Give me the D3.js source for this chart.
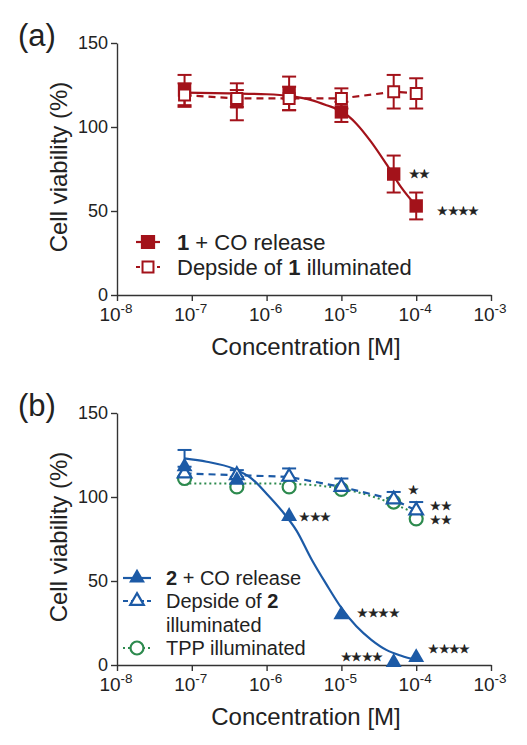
<!DOCTYPE html>
<html><head><meta charset="utf-8">
<script src="https://cdn.jsdelivr.net/npm/d3@7"></script>
<style>
body{margin:0;background:#fff}
svg{display:block}
text{font-family:"Liberation Sans",Arial,Helvetica,sans-serif;fill:#222}
</style>
</head><body><svg id="c" width="527" height="745"></svg>
<script>
// ---------- data ----------
const conc = [8e-8, 4e-7, 2e-6, 1e-5, 5e-5, 1e-4];
const xTickExp = [-8, -7, -6, -5, -4, -3];
const yTicks = [0, 50, 100, 150];
// panel (a)
const co1 = [122, 115, 120, 109, 72, 53];
const co1Err = [9, 11, 10, 6, 11, 8];
const dep1 = [119, 117, 117, 117, 121, 120];
const dep1Err = [7, 5, 7, 6, 10, 9];
const fit1LogConc = [-7.1, -6.5, -6.0, -5.7, -5.4, -5.2, -5.0, -4.8, -4.6, -4.4, -4.2, -4.0];
const fit1Vals = [120.5, 120, 119.5, 118.5, 116, 113, 109.5, 102, 91, 78, 64, 53];
const co1Stars = ["", "", "", "", "**", "****"];
// panel (b)
const co2 = [118, 110, 88.5, 30, 1.6, 4.5];
const co2ErrUp = [10, 2, 0, 0, 0, 0];
const dep2 = [114, 113, 112, 106, 98.5, 92];
const dep2ErrUp = [4, 3, 5, 5, 4.5, 5];
const tpp = [111, 106, 106, 104.5, 97, 87];
const fit2LogConc = [-7.1, -6.8, -6.45, -6.2, -6.0, -5.8, -5.6, -5.4, -5.2, -5.0, -4.8, -4.6, -4.4, -4.2, -4.0];
const fit2Vals = [123, 121, 117, 111, 102, 92, 80, 63, 48, 34, 23, 15, 9, 5.5, 3];
const fitTppLogConc = [-7.1, -6.5, -6.0, -5.7, -5.4, -5.2, -5.0, -4.8, -4.6, -4.4, -4.2, -4.0];
const fitTppVals = [108, 108, 108, 107.8, 107.2, 106.3, 105, 103, 100.5, 97.5, 94, 90];
const co2Stars = ["", "", "***", "****", "****", "****"];
const dep2Stars = ["", "", "", "", "*", "**"];
const tppStars = ["", "", "", "", "", "**"];

// ---------- styles ----------
const RED = "#a3121a", BLUE = "#1c5aa6", GREEN = "#2d8a4e", AX = "#333";
const svg = d3.select("#c");

function panel(top, label) {
  const g = svg.append("g");
  const x = d3.scaleLog().domain([1e-8, 1e-3]).range([117, 491]);
  const y = d3.scaleLinear().domain([0, 150]).range([top + 252, top]);
  const minors = [];
  for (let e = -8; e < -3; e++) for (let m = 2; m <= 9; m++) minors.push(m * Math.pow(10, e));
  const xa = g.append("g").attr("transform", `translate(0,${y(0)})`);
  xa.call(d3.axisBottom(x).tickValues(minors).tickSize(3).tickSizeOuter(0).tickFormat(""));
  xa.call(d3.axisBottom(x).tickValues(xTickExp.map(e => Math.pow(10, e))).tickSize(6).tickSizeOuter(0).tickFormat(""));
  xa.selectAll("path,line").attr("stroke", AX).attr("stroke-width", 1.4);
  const lbl = g.append("g");
  xTickExp.forEach(e => {
    const t = lbl.append("text").attr("x", x(Math.pow(10, e)) - 1).attr("y", y(0) + 26)
      .attr("text-anchor", "middle").attr("font-size", 19);
    t.append("tspan").text("10");
    t.append("tspan").attr("dy", -8).attr("font-size", 13.5).text("-" + Math.abs(e));
  });
  const ya = g.append("g").attr("transform", "translate(117,0)");
  ya.call(d3.axisLeft(y).tickValues(yTicks).tickSize(6).tickSizeOuter(0).tickPadding(3));
  ya.selectAll("path,line").attr("stroke", AX).attr("stroke-width", 1.4);
  ya.selectAll("text").attr("font-size", 18).attr("font-family", "Liberation Sans, Arial, sans-serif").attr("fill", "#222");
  g.append("text").attr("transform", `translate(67,${top + 124}) rotate(-90)`).attr("text-anchor", "middle")
    .attr("font-size", 24).text("Cell viability (%)");
  g.append("text").attr("x", 306).attr("y", top + 312).attr("text-anchor", "middle")
    .attr("font-size", 24).text("Concentration [M]");
  g.append("text").attr("x", 18).attr("y", top + 3).attr("font-size", 31).text(label);
  return {g, x, y};
}

function errBars(g, x, y, vals, errs, color, up, down) {
  vals.forEach((v, i) => {
    const e = errs[i]; if (!e) return;
    const cx = x(conc[i]);
    const y1 = down ? y(v - e) : y(v), y2 = up ? y(v + e) : y(v);
    g.append("line").attr("x1", cx).attr("x2", cx).attr("y1", y1).attr("y2", y2).attr("stroke", color).attr("stroke-width", 2);
    if (up) g.append("line").attr("x1", cx - 7).attr("x2", cx + 7).attr("y1", y2).attr("y2", y2).attr("stroke", color).attr("stroke-width", 2);
    if (down) g.append("line").attr("x1", cx - 7).attr("x2", cx + 7).attr("y1", y1).attr("y2", y1).attr("stroke", color).attr("stroke-width", 2);
  });
}

// significance marks drawn as small solid stars (text)
function stars(g, x, y, vals, texts, offs) {
  texts.forEach((t, i) => {
    if (!t) return;
    const o = offs[i];
    g.append("text").attr("x", x(conc[i]) + o[0]).attr("y", y(vals[i]) + o[1] + 4)
      .attr("text-anchor", o[2] || "start").attr("font-size", 11.5)
      .attr("font-family", "DejaVu Sans, sans-serif")
      .attr("letter-spacing", -0.6).attr("fill", "#111")
      .attr("stroke", "#111").attr("stroke-width", 0.4)
      .text(t.replace(/\*/g, "★"));
  });
}

function sym(type, size) { return d3.symbol().type(type).size(size)(); }

// ---------- panel (a) ----------
{
  const {g, x, y} = panel(43, "(a)");
  const fitLine = d3.line().x(d => x(Math.pow(10, d[0]))).y(d => y(d[1])).curve(d3.curveMonotoneX);
  errBars(g, x, y, co1, co1Err, RED, true, true);
  errBars(g, x, y, dep1, dep1Err, RED, true, true);
  g.append("path").attr("d", fitLine(fit1LogConc.map((c, i) => [c, fit1Vals[i]])))
    .attr("fill", "none").attr("stroke", RED).attr("stroke-width", 2.2);
  g.append("path").attr("d", d3.line().x((d, i) => x(conc[i])).y(d => y(d))(dep1))
    .attr("fill", "none").attr("stroke", RED).attr("stroke-width", 2.2).attr("stroke-dasharray", "7,5");
  co1.forEach((v, i) => g.append("path").attr("d", sym(d3.symbolSquare, 180))
    .attr("transform", `translate(${x(conc[i])},${y(v)})`).attr("fill", RED));
  dep1.forEach((v, i) => g.append("path").attr("d", sym(d3.symbolSquare, 120))
    .attr("transform", `translate(${x(conc[i])},${y(v)})`).attr("fill", "#fff").attr("stroke", RED).attr("stroke-width", 2));
  stars(g, x, y, co1, co1Stars, [0, 0, 0, 0, [15, 0], [21, 5]]);
  const L = g.append("g");
  [[242, "filled", " + CO release", "1", ""], [267, "open", "Depside of ", "1", " illuminated"]].forEach(r => {
    L.append("line").attr("x1", 136).attr("x2", 160).attr("y1", r[0]).attr("y2", r[0]).attr("stroke", RED).attr("stroke-width", 2.2)
      .attr("stroke-dasharray", r[1] === "open" ? "4,3" : null);
    L.append("path").attr("d", sym(d3.symbolSquare, r[1] === "open" ? 120 : 150)).attr("transform", `translate(148,${r[0]})`)
      .attr("fill", r[1] === "open" ? "#fff" : RED).attr("stroke", RED).attr("stroke-width", 2);
    const t = L.append("text").attr("x", 177).attr("y", r[0] + 8).attr("font-size", 22);
    if (r[1] === "filled") { t.append("tspan").attr("font-weight", "bold").text(r[3]); t.append("tspan").text(r[2]); }
    else { t.append("tspan").text(r[2]); t.append("tspan").attr("font-weight", "bold").text(r[3]); t.append("tspan").text(r[4]); }
  });
}

// ---------- panel (b) ----------
{
  const {g, x, y} = panel(413, "(b)");
  const fitLine = d3.line().x(d => x(Math.pow(10, d[0]))).y(d => y(d[1])).curve(d3.curveMonotoneX);
  g.append("path").attr("d", fitLine(fitTppLogConc.map((c, i) => [c, fitTppVals[i]])))
    .attr("fill", "none").attr("stroke", GREEN).attr("stroke-width", 2).attr("stroke-dasharray", "2,3");
  g.append("path").attr("d", d3.line().x((d, i) => x(conc[i])).y(d => y(d))(dep2))
    .attr("fill", "none").attr("stroke", BLUE).attr("stroke-width", 2.2).attr("stroke-dasharray", "7,5");
  g.append("path").attr("d", fitLine(fit2LogConc.map((c, i) => [c, fit2Vals[i]])))
    .attr("fill", "none").attr("stroke", BLUE).attr("stroke-width", 2.2);
  errBars(g, x, y, dep2, dep2ErrUp, BLUE, true, false);
  errBars(g, x, y, co2, co2ErrUp, BLUE, true, false);
  tpp.forEach((v, i) => g.append("circle").attr("cx", x(conc[i])).attr("cy", y(v)).attr("r", 6.5)
    .attr("fill", "#fff").attr("stroke", GREEN).attr("stroke-width", 2.2));
  dep2.forEach((v, i) => g.append("path").attr("d", sym(d3.symbolTriangle, 80))
    .attr("transform", `translate(${x(conc[i])},${y(v)})`).attr("fill", "#fff").attr("stroke", BLUE).attr("stroke-width", 2.2));
  co2.forEach((v, i) => g.append("path").attr("d", sym(d3.symbolTriangle, 110))
    .attr("transform", `translate(${x(conc[i])},${y(v)})`).attr("fill", BLUE));
  stars(g, x, y, co2, co2Stars, [0, 0, [10, 1], [16, -2], [-11, -5, "end"], [12, -8]]);
  stars(g, x, y, dep2, dep2Stars, [0, 0, 0, 0, [14, -10], [14, -4]]);
  stars(g, x, y, tpp, tppStars, [0, 0, 0, 0, 0, [14, 1]]);
  const L = g.append("g");
  const rows = [
    {y: 578, kind: "filled", parts: [["2", true], [" + CO release", false]]},
    {y: 601, kind: "open", parts: [["Depside of ", false], ["2", true]]},
    {y: 625, kind: null, parts: [["illuminated", false]]},
    {y: 648, kind: "circle", parts: [["TPP illuminated", false]]}
  ];
  rows.forEach(r => {
    if (r.kind === "filled" || r.kind === "open") {
      L.append("line").attr("x1", 123).attr("x2", 151).attr("y1", r.y).attr("y2", r.y).attr("stroke", BLUE).attr("stroke-width", 2.2)
        .attr("stroke-dasharray", r.kind === "open" ? "5,3" : null);
      L.append("path").attr("d", sym(d3.symbolTriangle, r.kind === "open" ? 80 : 110)).attr("transform", `translate(137,${r.y})`)
        .attr("fill", r.kind === "open" ? "#fff" : BLUE).attr("stroke", BLUE).attr("stroke-width", r.kind === "open" ? 2.2 : 0);
    } else if (r.kind === "circle") {
      L.append("line").attr("x1", 123).attr("x2", 151).attr("y1", r.y).attr("y2", r.y).attr("stroke", GREEN).attr("stroke-width", 2)
        .attr("stroke-dasharray", "2,3");
      L.append("circle").attr("cx", 137).attr("cy", r.y).attr("r", 6.5).attr("fill", "#fff").attr("stroke", GREEN).attr("stroke-width", 2.2);
    }
    const t = L.append("text").attr("x", 166).attr("y", r.y + 7).attr("font-size", 20);
    r.parts.forEach(p => t.append("tspan").attr("font-weight", p[1] ? "bold" : null).text(p[0]));
  });
}
</script>
</body></html>
